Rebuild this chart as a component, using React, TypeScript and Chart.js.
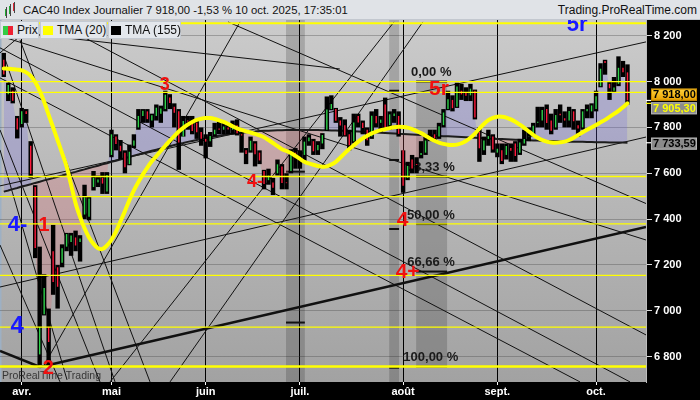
import React, { useEffect, useRef } from "react";
import { Chart, registerables } from "chart.js";
Chart.register(...registerables);

const FONT = "'Liberation Sans', Arial, sans-serif";

// ---------- DATA ----------
const titleText = "CAC40 Index Journalier 7 918,00 -1,53 % 10 oct. 2025, 17:35:01";
const siteText = "Trading.ProRealTime.com";
const legendNames = ["Prix", "TMA (20)", "TMA (155)"];

const dates = [
  "26/03","27/03","28/03","31/03",
  "01/04","02/04","03/04","04/04","07/04","08/04","09/04","10/04","11/04","14/04","15/04","16/04","17/04","22/04","23/04","24/04","25/04","28/04","29/04","30/04",
  "02/05","05/05","06/05","07/05","08/05","09/05","12/05","13/05","14/05","15/05","16/05","19/05","20/05","21/05","22/05","23/05","26/05","27/05","28/05","29/05","30/05",
  "02/06","03/06","04/06","05/06","06/06","09/06","10/06","11/06","12/06","13/06","16/06","17/06","18/06","19/06","20/06","23/06","24/06","25/06","26/06","27/06","30/06",
  "01/07","02/07","03/07","04/07","07/07","08/07","09/07","10/07","11/07","14/07","15/07","16/07","17/07","18/07","21/07","22/07","23/07","24/07","25/07","28/07","29/07","30/07","31/07",
  "01/08","04/08","05/08","06/08","07/08","08/08","11/08","12/08","13/08","14/08","15/08","18/08","19/08","20/08","21/08","22/08","25/08","26/08","27/08","28/08","29/08",
  "01/09","02/09","03/09","04/09","05/09","08/09","09/09","10/09","11/09","12/09","15/09","16/09","17/09","18/09","19/09","22/09","23/09","24/09","25/09","26/09","29/09","30/09",
  "01/10","02/10","03/10","06/10","07/10","08/10","09/10","10/10",
];
const monthNames: Record<string, string> = { "04": "avr.", "05": "mai", "06": "juin", "07": "juil.", "08": "août", "09": "sept.", "10": "oct." };

const opens = [
  8095,7945,7960,7840,
  7815,7870,7720,7540,6810,6985,6930,7260,7190,7210,7280,7300,7320,7300,7420,7410,7540,7560,7580,7520,
  7680,7760,7720,7690,7640,7720,7800,7850,7870,7830,7850,7860,7880,7930,7890,7870,7760,7830,7820,7820,7780,
  7750,7740,7770,7795,7790,7800,7790,7810,7770,7700,7700,7730,7690,7610,7570,7560,7600,7630,7560,7610,7690,
  7660,7680,7740,7740,7700,7730,7790,7880,7880,7830,7810,7770,7740,7850,7820,7790,7760,7850,7820,7900,7810,7850,7850,
  7700,7580,7660,7640,7680,7690,7760,7770,7760,7810,7880,7920,7890,7960,7950,7940,7960,7780,7700,7750,7760,
  7690,7700,7680,7710,7730,7690,7730,7760,7770,7820,7830,7880,7830,7800,7860,7840,7830,7870,7810,7800,7870,7870,
  7880,7980,8090,7990,7960,7990,8060,8040,
];
const highs = [
  8125,7995,7975,7850,
  7885,7880,7740,7548,7280,7160,7010,7375,7200,7290,7340,7340,7350,7330,7550,7500,7610,7590,7605,7605,
  7790,7770,7745,7700,7725,7770,7880,7880,7880,7860,7900,7895,7960,7945,7905,7880,7850,7850,7850,7830,7800,
  7770,7780,7820,7830,7820,7815,7830,7835,7780,7710,7760,7740,7700,7615,7620,7580,7660,7640,7600,7705,7710,
  7700,7760,7770,7750,7740,7775,7935,7940,7885,7845,7835,7790,7860,7860,7830,7800,7870,7880,7850,7930,7870,7880,7870,
  7700,7650,7680,7670,7740,7760,7790,7790,7820,7880,7960,7940,7995,7990,7975,7990,7965,7800,7760,7790,7770,
  7730,7730,7730,7730,7740,7750,7790,7800,7820,7890,7890,7900,7860,7880,7900,7870,7890,7880,7830,7880,7900,7905,
  7960,8080,8095,8000,8020,8110,8090,8075,
];
const lows = [
  8020,7915,7905,7752,
  7800,7820,7580,7230,6764,6980,6760,7070,7010,7190,7260,7240,7260,7215,7400,7395,7525,7540,7510,7510,
  7670,7700,7660,7600,7635,7710,7790,7820,7820,7800,7830,7820,7870,7880,7800,7615,7760,7790,7770,7750,7720,
  7665,7715,7760,7770,7770,7770,7770,7765,7690,7640,7690,7630,7640,7530,7550,7505,7590,7530,7530,7600,7620,
  7620,7650,7720,7680,7680,7705,7785,7875,7820,7760,7760,7700,7730,7800,7770,7720,7750,7800,7780,7790,7790,7820,7760,
  7515,7570,7600,7600,7665,7680,7740,7740,7750,7800,7875,7870,7885,7920,7915,7915,7835,7650,7680,7720,7690,
  7670,7640,7660,7650,7650,7680,7720,7740,7760,7800,7800,7790,7770,7790,7820,7800,7800,7790,7760,7790,7840,7840,
  7870,7975,8030,7920,7950,7980,8020,7900,
];
const closes = [
  8031,7985,7916,7791,
  7870,7858,7598,7274,6930,7100,6864,7126,7105,7273,7335,7329,7285,7316,7495,7490,7580,7573,7555,7593,
  7770,7728,7696,7626,7694,7743,7850,7873,7836,7853,7886,7883,7943,7907,7864,7734,7828,7826,7784,7779,7751,
  7738,7763,7790,7790,7804,7791,7804,7775,7765,7684,7742,7683,7656,7553,7590,7537,7639,7558,7557,7692,7666,
  7662,7738,7756,7696,7723,7767,7878,7902,7829,7808,7766,7722,7822,7822,7798,7744,7851,7818,7834,7800,7857,7861,7772,
  7546,7632,7621,7636,7688,7743,7762,7753,7805,7865,7923,7884,7979,7944,7938,7969,7843,7709,7743,7762,7704,
  7707,7654,7719,7698,7675,7734,7749,7762,7807,7825,7876,7819,7786,7854,7853,7830,7872,7827,7795,7870,7880,7896,
  7936,8056,8081,7971,7974,8060,8041,7918,
];
const tma20 = [
  8057,8056,8054,8052,8049,8040,8025,7998,7960,7912,
  7855,7800,7744,7688,7630,7550,7470,7410,7360,7320,
  7292,7273,7270,7285,7310,7345,7390,7435,7483,7525,
  7562,7595,7625,7652,7675,7698,7720,7742,7762,7782,
  7798,7812,7824,7833,7838,7841,7841,7837,7831,7824,
  7815,7805,7796,7789,7783,7778,7772,7765,7757,7745,
  7732,7718,7705,7697,7688,7676,7663,7650,7643,7637,
  7632,7629,7630,7638,7650,7668,7688,7706,7722,7738,
  7752,7764,7774,7782,7788,7792,7797,7801,7803,7802,
  7799,7793,7784,7775,7764,7752,7742,7734,7728,7724,
  7723,7725,7731,7741,7755,7773,7795,7815,7832,7842,
  7847,7847,7843,7835,7825,7812,7798,7783,7768,7755,
  7745,7738,7734,7733,7735,7738,7745,7755,7767,7779,
  7790,7800,7811,7822,7833,7846,7859,7872,7888,7905.3,
];
const tma155 = [
  7520,7525,7531,7536,7542,7547,7552,7558,7563,7569,
  7574,7579,7585,7590,7596,7601,7606,7612,7617,7623,
  7628,7633,7639,7644,7650,7655,7660,7666,7671,7677,
  7682,7687,7693,7698,7703,7708,7713,7718,7723,7728,
  7732,7737,7741,7745,7749,7753,7757,7760,7764,7767,
  7770,7772,7775,7777,7779,7781,7782,7784,7785,7786,
  7787,7788,7788,7789,7789,7789,7789,7789,7789,7789,
  7789,7788,7788,7787,7787,7786,7785,7784,7783,7782,
  7781,7780,7779,7778,7777,7776,7775,7774,7772,7771,
  7770,7769,7768,7767,7766,7765,7764,7763,7762,7761,
  7760,7759,7758,7757,7756,7755,7754,7753,7752,7751,
  7750,7749,7748,7747,7746,7746,7745,7744,7743,7743,
  7742,7741,7741,7740,7739,7739,7738,7738,7737,7737,
  7736,7736,7735,7735,7735,7734,7734,7734,7734,7733.59,
];

const yTicks = [6800, 7000, 7200, 7400, 7600, 7800, 8000, 8200];
const yMin = 6689.7;
const yMax = 8268.5;
const xMin = -0.84;
const xMax = 143.13;

// horizontal yellow levels
const yellowLevels = [8254, 8000, 7953, 7586, 7498, 7379, 7155, 6929, 6757];
const yellowWidths = [2, 1.3, 1.3, 1.3, 1.3, 1.3, 1.2, 1.2, 2.5];

// trend lines: start index, start price, end index, end price
const trendX0 = [-0.84, -0.84, 49.98, 11.42, -0.84, -0.84, -0.84, -0.84, -0.84, 3.62, -0.84, -0.84, 8.75, 23.68, 37.05, -0.84, -0.17, -0.84, 8.08];
const trendP0 = [7545, 7104, 8260, 8260, 8147, 8016, 8199, 8125, 7789, 8181, 7287, 7702, 6755, 6690, 6690, 8223, 8125, 6825, 6755];
const trendX1 = [143.13, 143.13, 143.13, 143.13, 139.57, 128.43, 143.13, 7.41, 21.45, 32.6, 12.54, 14.1, 52.65, 86.97, 93.4, 74.9, 24.8, 8.08, 143.13];
const trendP1 = [8173, 7758, 7468, 6895, 6690, 6690, 7309, 8260, 6690, 6690, 6690, 6699, 8260, 8260, 8260, 8055, 6690, 6755, 7366];
const trendWidths = [1, 1, 1, 1, 1, 1, 1, 1, 1, 1, 1, 1, 1, 1, 1, 1, 1, 2.5, 2.5];

// shaded vertical zones (bar index ranges), optional price limits
const bandFrom = [62.9, 85.9, 91.9];
const bandTo = [67.1, 88.1, 98.8];
const bandTopPrice: (number | null)[] = [null, null, 8000];
const bandBottomPrice: (number | null)[] = [null, null, 6757];
const bandMarks = [[7607, 6949], [7960, 7658, 7357, 6752], [] as number[]];

// Fibonacci retracement
const fibTop = 8000;
const fibBottom = 6757;
const fibPct = [0, 33.33, 50, 66.66, 100];
const fibTextIdx = [90.76, 89.87, 89.87, 89.9, 89.05];

// wave labels
const waveText = ["3", "4-", "5r", "4", "4+", "1", "2", "4-", "4", "5r"];
const waveIdx = [35.9, 56, 97, 88.9, 90, 9, 9.9, 3.06, 3, 127.8];
const wavePrice = [7985, 7562, 7968, 7396, 7168, 7373, 6747, 7375, 6934, 8247];
const waveColor = ["#f01010", "#f01010", "#f01010", "#f01010", "#f01010", "#f01010", "#f01010", "#1a1aff", "#1a1aff", "#1a1aff"];
const waveSize = [18, 18, 21, 21, 21, 20, 20, 22, 24, 22];

// right axis value tags
const tagValues = [7918.0, 7905.3, 7733.59];
const tagShift = [-5.7, 5, 1];
const tagFill = ["#f2b400", "#8c8c8c", "#8a8a8a"];
const tagText = ["#000000", "#ffff00", "#000000"];

const fmtInt = (v: number) => {
  const n = Math.round(v);
  const th = Math.floor(n / 1000);
  const r = String(n % 1000).padStart(3, "0");
  return th > 0 ? `${th} ${r}` : `${r}`;
};
const fmt2 = (v: number) => {
  const n = Math.floor(v);
  const dec = Math.round((v - n) * 100);
  return `${fmtInt(n)},${String(dec).padStart(2, "0")}`;
};

export default function App() {
  const ref = useRef<HTMLCanvasElement>(null);

  useEffect(() => {
    const canvas = ref.current;
    if (!canvas) return;
    const idx = closes.map((_, i) => i);
    const monthStarts: number[] = [];
    const monthLabelAt: Record<number, string> = {};
    dates.forEach((d, i) => {
      if (i > 0 && d.slice(3) !== dates[i - 1].slice(3)) {
        monthStarts.push(i);
        monthLabelAt[i] = monthNames[d.slice(3)] || "";
      }
    });
    const fibLevels = fibPct.map((p) => fibTop - (p / 100) * (fibTop - fibBottom));

    const datasets: any[] = [];
    // 0: close line used for fill vs TMA155
    datasets.push({
      type: "line",
      data: idx.map((i) => ({ x: i, y: closes[i] })),
      borderWidth: 0,
      borderColor: "rgba(0,0,0,0)",
      pointRadius: 0,
      fill: { target: 1, above: "rgba(110,100,230,0.24)", below: "rgba(230,90,100,0.22)" },
      order: 100,
    });
    // 1: TMA 155
    datasets.push({
      type: "line",
      data: idx.map((i) => ({ x: i, y: tma155[i] })),
      borderColor: "#1c1c1c",
      borderWidth: 2,
      pointRadius: 0,
      fill: false,
      order: 60,
    });
    // trend lines
    trendX0.forEach((_, k) => {
      datasets.push({
        type: "line",
        data: [
          { x: trendX0[k], y: trendP0[k] },
          { x: trendX1[k], y: trendP1[k] },
        ],
        borderColor: "#111111",
        borderWidth: trendWidths[k],
        pointRadius: 0,
        fill: false,
        order: 80,
      });
    });
    // candles: range
    datasets.push({
      type: "bar",
      data: idx.map((i) => ({ x: i, y: [lows[i], highs[i]] })),
      backgroundColor: "#000000",
      barThickness: 4.4,
      inflateAmount: 0,
      grouped: false,
      order: 50,
    });
    // candles: body
    datasets.push({
      type: "bar",
      data: idx.map((i) => ({ x: i, y: [opens[i], closes[i]] })),
      backgroundColor: idx.map((i) => (closes[i] >= opens[i] ? "#2ed24a" : "#ff1a3c")),
      barThickness: 1.4,
      inflateAmount: 0,
      grouped: false,
      order: 40,
    });
    // yellow levels
    yellowLevels.forEach((lv, k) => {
      datasets.push({
        type: "line",
        data: [
          { x: xMin, y: lv },
          { x: xMax, y: lv },
        ],
        borderColor: "#ffff00",
        borderWidth: yellowWidths[k],
        pointRadius: 0,
        fill: false,
        order: 20,
      });
    });
    // TMA 20
    datasets.push({
      type: "line",
      data: idx.map((i) => ({ x: i, y: tma20[i] })),
      borderColor: "#ffff00",
      borderWidth: 4,
      pointRadius: 0,
      fill: false,
      tension: 0.3,
      borderJoinStyle: "round",
      borderCapStyle: "round",
      order: 10,
    });

    const bgPlugin = {
      id: "bg",
      beforeDraw(chart: any) {
        const { ctx, chartArea: a } = chart;
        ctx.save();
        ctx.fillStyle = "#000";
        ctx.fillRect(0, 0, chart.width, chart.height);
        const g = ctx.createLinearGradient(0, a.top, 0, a.bottom);
        g.addColorStop(0, "#cbcbcb");
        g.addColorStop(1, "#a2a2a2");
        ctx.fillStyle = g;
        ctx.fillRect(a.left, a.top, a.right - a.left, a.bottom - a.top);
        ctx.fillStyle = "#9db0c4";
        ctx.fillRect(a.left, a.top, 1.5, a.bottom - a.top);
        ctx.restore();
      },
    };

    const zonesPlugin = {
      id: "zones",
      beforeDatasetsDraw(chart: any) {
        const { ctx, chartArea: a } = chart;
        const xs = chart.scales.x;
        const ys = chart.scales.y;
        ctx.save();
        ctx.beginPath();
        ctx.rect(a.left, a.top, a.right - a.left, a.bottom - a.top);
        ctx.clip();
        bandFrom.forEach((f, k) => {
          const x0 = xs.getPixelForValue(f);
          const x1 = xs.getPixelForValue(bandTo[k]);
          const tp = bandTopPrice[k];
          const bp = bandBottomPrice[k];
          const y0 = tp == null ? a.top : ys.getPixelForValue(tp);
          const y1 = bp == null ? a.bottom : ys.getPixelForValue(bp);
          ctx.fillStyle = "rgba(0,0,0,0.17)";
          ctx.fillRect(x0, y0, x1 - x0, y1 - y0);
          ctx.fillStyle = "#111";
          const marks = k === 2 ? fibLevels : bandMarks[k];
          marks.forEach((m) => {
            const y = ys.getPixelForValue(m);
            ctx.fillRect(x0, y - 1, x1 - x0, 2);
          });
        });
        // fib texts
        ctx.font = `bold 13px ${FONT}`;
        ctx.fillStyle = "#1a1a1a";
        ctx.textAlign = "left";
        ctx.textBaseline = "middle";
        fibLevels.forEach((lv, k) => {
          const label = `${fibPct[k].toFixed(2).replace(".", ",")} %`;
          ctx.fillText(label, xs.getPixelForValue(fibTextIdx[k]), ys.getPixelForValue(lv) - 8.7);
        });
        ctx.restore();
      },
    };

    const labelsPlugin = {
      id: "waveLabels",
      afterDatasetsDraw(chart: any) {
        const { ctx, chartArea: a } = chart;
        const xs = chart.scales.x;
        const ys = chart.scales.y;
        ctx.save();
        ctx.textAlign = "left";
        ctx.textBaseline = "middle";
        ctx.font = `10.5px ${FONT}`;
        ctx.fillStyle = "rgba(35,35,35,0.85)";
        ctx.fillText("ProRealTime Trading", a.left + 2, a.bottom - 5.5);
        ctx.textAlign = "center";
        waveText.forEach((t, k) => {
          ctx.font = `bold ${waveSize[k]}px ${FONT}`;
          ctx.fillStyle = waveColor[k];
          ctx.fillText(t, xs.getPixelForValue(waveIdx[k]), ys.getPixelForValue(wavePrice[k]));
        });
        ctx.restore();
      },
    };

    const tagsPlugin = {
      id: "tags",
      afterDraw(chart: any) {
        const { ctx, chartArea: a } = chart;
        const ys = chart.scales.y;
        ctx.save();
        tagValues.forEach((v, k) => {
          const yc = ys.getPixelForValue(v) + tagShift[k];
          const x0 = a.right + 5;
          if (k === 0) {
            const g = ctx.createLinearGradient(0, yc - 6, 0, yc + 6);
            g.addColorStop(0, "#ffd23c");
            g.addColorStop(1, "#e9a000");
            ctx.fillStyle = g;
          } else {
            ctx.fillStyle = tagFill[k];
          }
          ctx.fillRect(x0, yc - 6, 46, 12);
          ctx.strokeStyle = k === 0 ? "#c98a00" : "#b4b4b4";
          ctx.lineWidth = 1;
          ctx.strokeRect(x0 + 0.5, yc - 5.5, 45, 11);
          ctx.fillStyle = k === 1 ? "#ffff00" : "#ffffff";
          ctx.fillRect(a.right, ys.getPixelForValue(v) - 0.5, 5, 1.2);
          ctx.font = `bold 11px ${FONT}`;
          ctx.fillStyle = tagText[k];
          ctx.textAlign = "left";
          ctx.textBaseline = "middle";
          ctx.fillText(fmt2(v), x0 + 2, yc + 0.5);
        });
        ctx.restore();
      },
    };

    const chart = new Chart(canvas, {
      type: "bar",
      data: { datasets },
      options: {
        responsive: false,
        animation: false,
        devicePixelRatio: 1,
        events: [],
        layout: { padding: { top: 20, left: 0, right: 0, bottom: 0 }, autoPadding: false },
        plugins: { legend: { display: false }, tooltip: { enabled: false }, title: { display: false } },
        scales: {
          x: {
            type: "linear",
            min: xMin,
            max: xMax,
            offset: false,
            position: "bottom",
            afterFit: (s: any) => {
              s.height = 18;
            },
            afterBuildTicks: (s: any) => {
              s.ticks = monthStarts.map((v) => ({ value: v }));
            },
            grid: { color: "#000000", lineWidth: 1, drawTicks: true, tickLength: 3, tickColor: "#ffffff", offset: false },
            border: { display: false },
            ticks: {
              color: "#ffffff",
              font: { family: FONT, size: 11, weight: "bold" },
              padding: 0,
              maxRotation: 0,
              autoSkip: false,
              callback: (v: any) => monthLabelAt[Math.round(Number(v))] || "",
            },
          },
          y: {
            type: "linear",
            position: "right",
            min: yMin,
            max: yMax,
            afterFit: (s: any) => {
              s.width = 54;
            },
            afterBuildTicks: (s: any) => {
              s.ticks = yTicks.map((v) => ({ value: v }));
            },
            grid: { color: "rgba(70,70,70,0.35)", lineWidth: 1, drawTicks: true, tickLength: 6, tickColor: "#dddddd" },
            border: { display: true, color: "#bdbdbd", width: 1 },
            ticks: {
              color: "#ffffff",
              font: { family: FONT, size: 11, weight: "bold" },
              padding: 2,
              callback: (v: any) => fmtInt(Number(v)),
            },
          },
        },
      } as any,
      plugins: [bgPlugin, zonesPlugin, labelsPlugin, tagsPlugin],
    });
    return () => chart.destroy();
  }, []);

  const legendBox = (left: number, width: number): React.CSSProperties => ({
    position: "absolute",
    left,
    top: 21,
    width,
    height: 18,
    boxSizing: "border-box",
    background: "#e3e7ec",
    border: "1px solid #c4cad2",
    font: `12px ${FONT}`,
    color: "#111",
  });
  const sw = (left: number, color: string): React.CSSProperties => ({
    position: "absolute",
    left,
    top: 4,
    width: 10,
    height: 9,
    background: color,
  });
  const txt = (left: number): React.CSSProperties => ({ position: "absolute", left, top: 1, lineHeight: "14px", whiteSpace: "nowrap" });

  return (
    <div style={{ position: "relative", width: 700, height: 400, overflow: "hidden", background: "#000" }}>
      <style>{"html,body{margin:0;padding:0;}"}</style>
      <canvas ref={ref} width={700} height={400} style={{ position: "absolute", left: 0, top: 0, width: 700, height: 400, display: "block" }} />
      <div
        style={{
          position: "absolute",
          left: 0,
          top: 0,
          width: 700,
          height: 20,
          background: "#e0e3e7",
          borderBottom: "1px solid #c3c8cf",
          boxSizing: "border-box",
          font: `12px ${FONT}`,
          color: "#111",
        }}
      >
        <div style={{ position: "absolute", left: 5, top: 9, width: 2, height: 7, background: "#22aa33" }} />
        <div style={{ position: "absolute", left: 9, top: 6, width: 2, height: 8, background: "#22aa33" }} />
        <div style={{ position: "absolute", left: 13, top: 3, width: 2, height: 8, background: "#dd2233" }} />
        <div style={{ position: "absolute", left: 5.5, top: 7, width: 1, height: 11, background: "#444" }} />
        <div style={{ position: "absolute", left: 9.5, top: 4, width: 1, height: 12, background: "#444" }} />
        <div style={{ position: "absolute", left: 13.5, top: 2, width: 1, height: 11, background: "#444" }} />
        <span style={{ position: "absolute", left: 23, top: 3, lineHeight: "14px", whiteSpace: "nowrap", fontSize: "11.3px" }}>{titleText}</span>
        <span style={{ position: "absolute", right: 3, top: 3, lineHeight: "14px", whiteSpace: "nowrap" }}>{siteText}</span>
      </div>
      <div style={legendBox(0, 39)}>
        <div style={{ ...sw(2, "#33cc44"), width: 5 }} />
        <div style={{ ...sw(7, "#ee2233"), width: 5 }} />
        <span style={txt(16)}>{legendNames[0]}</span>
      </div>
      <div style={legendBox(40, 67)}>
        <div style={sw(2, "#ffff00")} />
        <span style={txt(16)}>{legendNames[1]}</span>
      </div>
      <div style={legendBox(108, 73)}>
        <div style={sw(2, "#000000")} />
        <span style={txt(16)}>{legendNames[2]}</span>
      </div>
    </div>
  );
}
